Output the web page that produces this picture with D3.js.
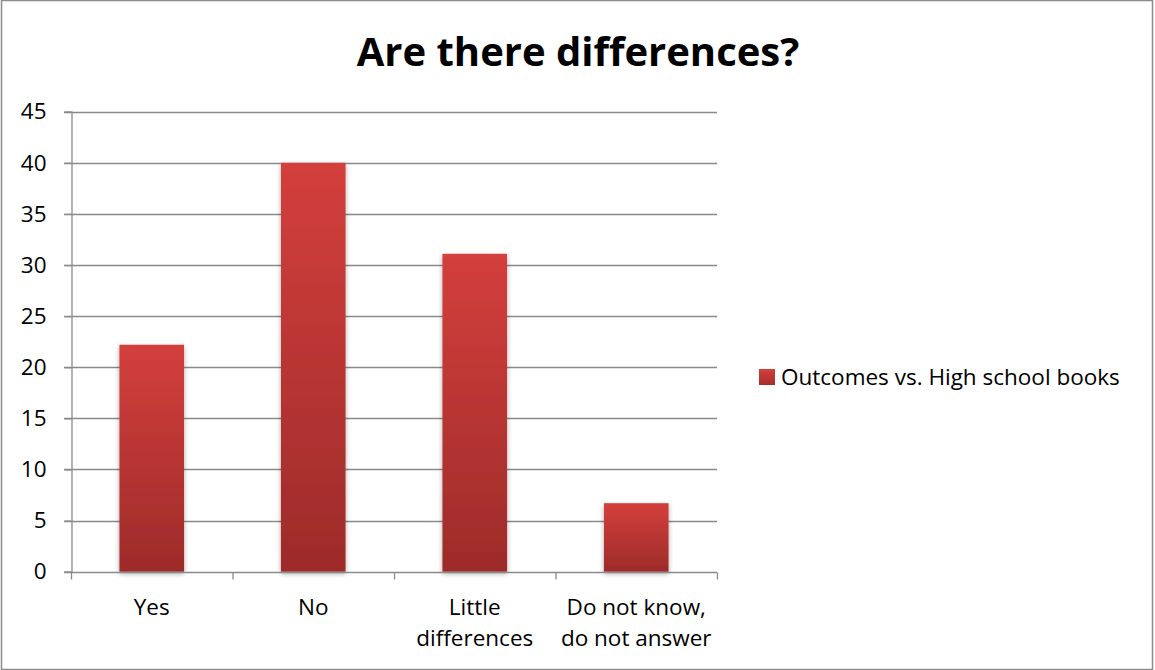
<!DOCTYPE html>
<html>
<head>
<meta charset="utf-8">
<script src="https://cdn.jsdelivr.net/npm/d3@7"></script>
<style>
  html, body { margin: 0; padding: 0; background: #fff; }
  svg { display: block; font-family: "Open Sans", "Liberation Sans", sans-serif; }
</style>
</head>
<body>
<svg id="chart" width="1155" height="670"></svg>
<script>
// Survey answers: are there differences between outcomes and high school books?
const categories = [["Yes"], ["No"], ["Little", "differences"], ["Do not know,", "do not answer"]];
const values = [22.2, 40.0, 31.1, 6.7];
const yTicks = [0, 5, 10, 15, 20, 25, 30, 35, 40, 45];
const seriesName = "Outcomes vs. High school books";
const title = "Are there differences?";

const svg = d3.select("#chart");
const W = 1155, H = 670;
const plot = { left: 71, right: 717, top: 111.7, bottom: 571.7 };

// chart frame
svg.append("rect")
  .attr("x", 1.5).attr("y", 0.5).attr("width", W - 4).attr("height", H - 1)
  .attr("fill", "#fff").attr("stroke", "#8c8c8c").attr("stroke-width", 1.5);

// bar gradient
const defs = svg.append("defs");
const grad = defs.append("linearGradient").attr("id", "barGrad")
  .attr("x1", 0).attr("y1", 0).attr("x2", 0).attr("y2", 1);
grad.append("stop").attr("offset", "0%").attr("stop-color", "#d33f3c");
grad.append("stop").attr("offset", "100%").attr("stop-color", "#9d2b2a");
const lgrad = defs.append("linearGradient").attr("id", "legGrad")
  .attr("x1", 0).attr("y1", 0).attr("x2", 0).attr("y2", 1);
lgrad.append("stop").attr("offset", "0%").attr("stop-color", "#d33f3c");
lgrad.append("stop").attr("offset", "100%").attr("stop-color", "#a52d2c");
const shadow = defs.append("filter").attr("id", "shadow")
  .attr("x", "-20%").attr("y", "-5%").attr("width", "140%").attr("height", "115%");
shadow.append("feGaussianBlur").attr("in", "SourceAlpha").attr("stdDeviation", 2.5).attr("result", "b");
shadow.append("feOffset").attr("in", "b").attr("dx", 0).attr("dy", 2).attr("result", "o");
shadow.append("feComponentTransfer").attr("in", "o").attr("result", "s")
  .append("feFuncA").attr("type", "linear").attr("slope", 0.35);
const merge = shadow.append("feMerge");
merge.append("feMergeNode").attr("in", "s");
merge.append("feMergeNode").attr("in", "SourceGraphic");

const x = d3.scaleBand().domain(d3.range(categories.length))
  .range([plot.left, plot.right]).paddingInner(0.6).paddingOuter(0.3);
const xOuter = d3.scaleBand().domain(d3.range(categories.length))
  .range([plot.left, plot.right]);
const y = d3.scaleLinear().domain([0, 45]).range([plot.bottom, plot.top]);

// title
svg.append("text")
  .attr("x", 578).attr("y", 66)
  .attr("text-anchor", "middle")
  .attr("font-size", 40).attr("font-weight", "bold").attr("fill", "#000")
  .text(title);

// gridlines
svg.append("g").selectAll("line").data(yTicks.filter(d => d > 0)).join("line")
  .attr("x1", plot.left - 7).attr("x2", plot.right)
  .attr("y1", d => Math.round(y(d)) + 0.5).attr("y2", d => Math.round(y(d)) + 0.5)
  .attr("stroke", "#8a8a8a").attr("stroke-width", 1.3);

// y axis
const yAxis = d3.axisLeft(y).tickValues(yTicks).tickSize(7).tickPadding(18);
const gy = svg.append("g").attr("transform", `translate(${plot.left + 0.5},0)`).call(yAxis);
gy.select(".domain").attr("stroke", "#8a8a8a").attr("stroke-width", 1.3);
gy.selectAll(".tick line").attr("stroke", "#8a8a8a").attr("stroke-width", 1.3);
gy.selectAll(".tick text").attr("font-size", 22.5).attr("fill", "#000")
  .attr("font-family", "Open Sans, sans-serif");

// bars
svg.append("g").selectAll("rect").data(values).join("rect")
  .attr("x", (d, i) => x(i))
  .attr("width", x.bandwidth())
  .attr("y", d => y(d))
  .attr("height", d => y(0) - y(d))
  .attr("fill", "url(#barGrad)")
  .attr("filter", "url(#shadow)");

// x axis
const gx = svg.append("g").attr("transform", `translate(0,${Math.round(plot.bottom) + 0.5})`);
gx.append("line").attr("x1", plot.left - 7).attr("x2", plot.right)
  .attr("stroke", "#8a8a8a").attr("stroke-width", 1.3);
const boundaries = d3.range(categories.length + 1).map(i =>
  i < categories.length ? xOuter(i) : xOuter(i - 1) + xOuter.bandwidth());
gx.selectAll("line.tk").data(boundaries).join("line").attr("class", "tk")
  .attr("x1", d => d + 0.5).attr("x2", d => d + 0.5)
  .attr("y1", 0).attr("y2", 7)
  .attr("stroke", "#8a8a8a").attr("stroke-width", 1.3);
const labels = gx.selectAll("text").data(categories).join("text")
  .attr("text-anchor", "middle")
  .attr("font-size", 22.5).attr("fill", "#000");
labels.each(function(lines, i) {
  const t = d3.select(this);
  lines.forEach((ln, j) => {
    t.append("tspan")
      .attr("x", xOuter(i) + xOuter.bandwidth() / 2)
      .attr("y", 42 + j * 31)
      .text(ln);
  });
});

// legend
const leg = svg.append("g").attr("transform", "translate(759,369)");
leg.append("rect").attr("width", 16).attr("height", 16).attr("fill", "url(#legGrad)");
leg.append("text").attr("x", 22).attr("y", 16)
  .attr("font-size", 22.5).attr("fill", "#000")
  .text(seriesName);
</script>
</body>
</html>
